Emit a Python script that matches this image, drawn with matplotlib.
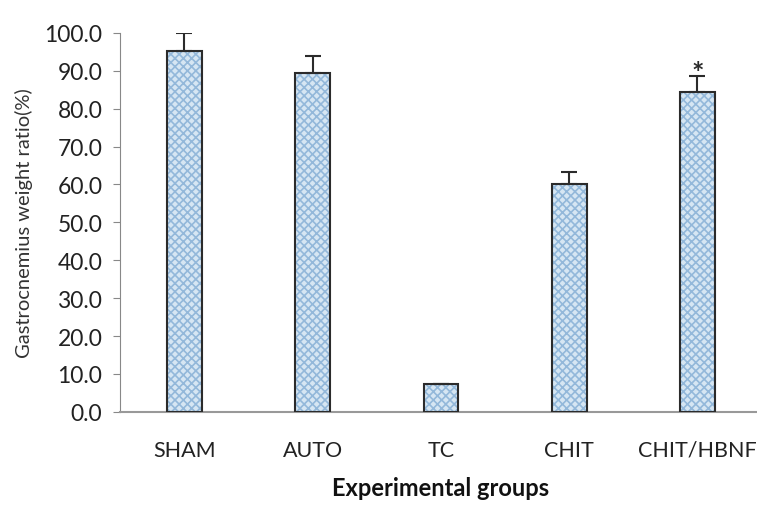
import matplotlib
matplotlib.use("Agg")
import matplotlib.pyplot as plt
import numpy as np

categories = ["SHAM", "AUTO", "TC", "CHIT", "CHIT/HBNF"]
values = [95.2, 89.3, 7.3, 60.0, 84.3]
errors = [4.8, 4.5, 0.0, 3.2, 4.4]
yticks = [0, 10, 20, 30, 40, 50, 60, 70, 80, 90, 100]

plt.rcParams['font.family'] = ['Lato', 'DejaVu Sans']
plt.rcParams['hatch.linewidth'] = 1.2

fig = plt.figure(figsize=(7.57, 5.06), dpi=100)
ax = fig.add_axes([0.159, 0.184, 0.847, 0.749])

x = np.arange(len(categories))
w = 0.27
ax.bar(x, values, width=w, color='#d6e6f3', edgecolor='#93b8da', hatch='xxxx', linewidth=0, zorder=2)
ax.bar(x, values, width=w, fill=False, edgecolor='#2b2b2b', linewidth=1.5, zorder=3)
ax.errorbar(x, values, yerr=[np.zeros(len(values)), errors], fmt='none', ecolor='#2b2b2b',
            elinewidth=1.5, capsize=6, capthick=1.5, zorder=4)
ax.text(x[4], values[4] + errors[4] - 2.6, "*", ha='center', va='bottom', fontsize=21,
        fontweight='bold', color='#2b2b2b')

ax.set_xlim(-0.5, len(categories) - 0.5)
ax.set_ylim(0, 100)
ax.set_yticks(yticks)
ax.set_yticklabels([f"{v:.1f}" for v in yticks], fontsize=16.5, color='#222222')
ax.set_xticks(x)
ax.set_xticklabels(categories, fontsize=15.5, color='#222222')
ax.tick_params(axis='x', length=0, pad=20)
ax.tick_params(axis='y', length=5, color='#888888', pad=8)
for s in ['top', 'right']:
    ax.spines[s].set_visible(False)
ax.spines['left'].set_color('#888888')
ax.spines['bottom'].set_color('#999999')
ax.spines['bottom'].set_linewidth(1.5)
ax.set_ylabel("Gastrocnemius weight ratio(%)", fontsize=14.5, color='#333333', labelpad=8)
ax.set_xlabel("Experimental groups", fontsize=17, fontweight='bold', color='#111111', labelpad=12)

fig.savefig("out.png", dpi=100)
